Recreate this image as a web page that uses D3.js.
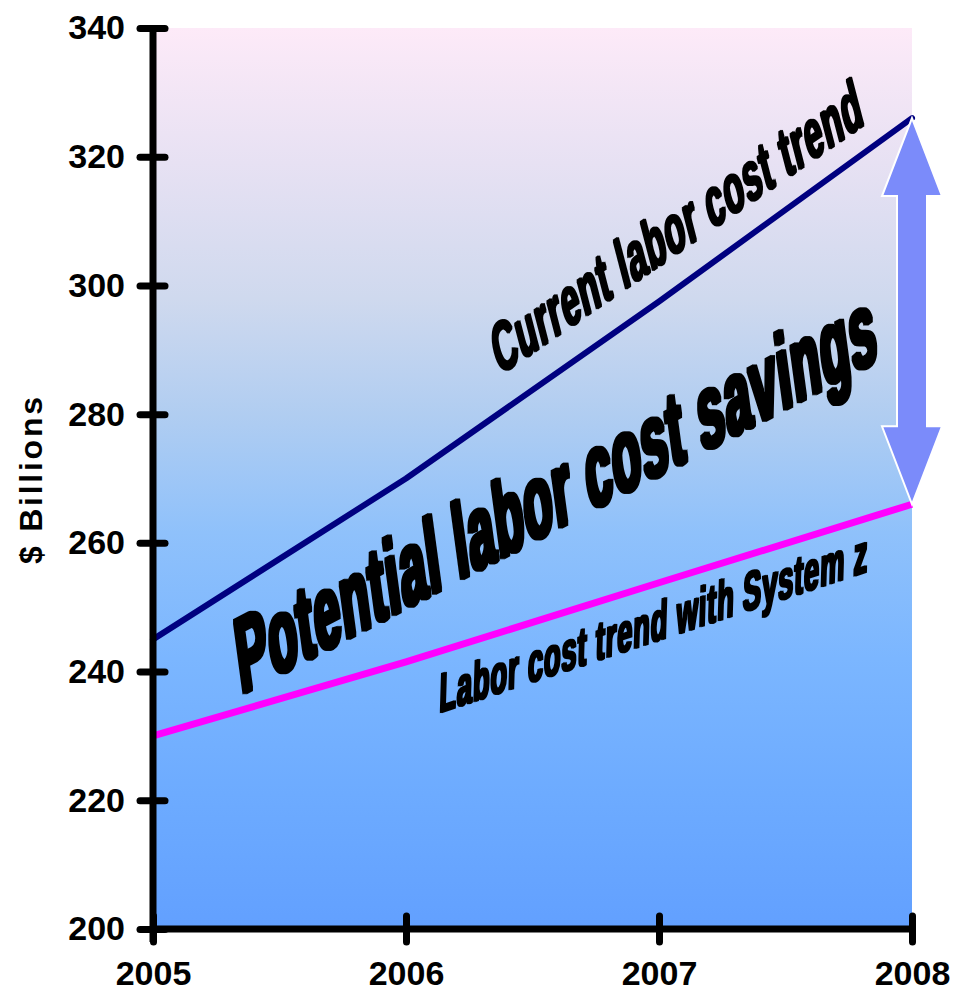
<!DOCTYPE html>
<html><head><meta charset="utf-8">
<script src="https://cdn.jsdelivr.net/npm/d3@7"></script>
<style>body{margin:0;background:#fff}</style>
</head><body><svg id="c" width="953" height="992"></svg>
<script>
// ---- data ----
const years = [2005, 2006, 2007, 2008];
const currentTrend = [245, 270, 297.5, 326];
const systemZTrend = [230, 241.5, 253.8, 266];
const yTicks = [200, 220, 240, 260, 280, 300, 320, 340];
const xTicks = [2005, 2006, 2007, 2008];
const yLabel = "$ Billions";
const annotationTexts = ["Current labor cost trend", "Potential labor cost savings", "Labor cost trend with System z"];
// baseline start/end of each annotation, in data units [year, $bn]
const annotationFrom = [[2006.37, 286.0], [2005.35, 236.5], [2006.13, 233.6]];
const annotationTo = [[2007.82, 325.2], [2007.875, 288.6], [2007.825, 255.6]];

// ---- layout ----
const svg = d3.select("#c");
const m = {l: 153, r: 953 - 912, t: 28, b: 992 - 929};
const W = 953, H = 992;
const x = d3.scaleLinear().domain([2005, 2008]).range([m.l, W - m.r]);
const y = d3.scaleLinear().domain([200, 340]).range([H - m.b, m.t]);

const defs = svg.append("defs");
const g = defs.append("linearGradient").attr("id", "bg").attr("x1", 0).attr("x2", 0).attr("y1", 0).attr("y2", 1);
[[0, "#fdeaf8"], [0.15, "#e7e1f3"], [0.3, "#cfd9ee"], [0.43, "#b0cdf1"], [0.56, "#8fc1fb"], [0.7, "#7bb6ff"], [0.85, "#6dabff"], [1, "#62a0ff"]]
  .forEach(([o, c]) => g.append("stop").attr("offset", o).attr("stop-color", c));

const radii = [1.2, 2, 1.1];
radii.forEach((r, i) => {
  defs.append("filter").attr("id", "heavy" + i).attr("x", "-5%").attr("y", "-5%").attr("width", "110%").attr("height", "110%")
    .append("feMorphology").attr("operator", "dilate").attr("radius", r);
});

svg.append("rect").attr("x", x(2005)).attr("y", y(340)).attr("width", x(2008) - x(2005)).attr("height", y(200) - y(340)).attr("fill", "url(#bg)");

const line = d3.line().x((d, i) => x(years[i])).y(d => y(d));
svg.append("path").datum(currentTrend).attr("d", line).attr("fill", "none").attr("stroke", "#000080").attr("stroke-width", 6).attr("stroke-linecap", "round").attr("stroke-linejoin", "round");
svg.append("path").datum(systemZTrend).attr("d", line).attr("fill", "none").attr("stroke", "#ff00ff").attr("stroke-width", 7).attr("stroke-linejoin", "round");

// double arrow between the two 2008 values
const ax = x(years[3]), aTop = y(currentTrend[3]), aBot = y(systemZTrend[3]);
const hw = 30, sw = 15, hl = 78;
svg.append("polygon")
  .attr("points", [[ax, aTop], [ax + hw, aTop + hl], [ax + sw, aTop + hl], [ax + sw, aBot - hl], [ax + hw, aBot - hl], [ax, aBot], [ax - hw, aBot - hl], [ax - sw, aBot - hl], [ax - sw, aTop + hl], [ax - hw, aTop + hl]].map(p => p.join(",")).join(" "))
  .attr("fill", "#7b8bfa").attr("stroke", "#ffffff").attr("stroke-width", 2);

// annotations
const sizes = [64, 98, 52];
annotationTexts.forEach((t, i) => {
  const p0 = [x(annotationFrom[i][0]), y(annotationFrom[i][1])];
  const p1 = [x(annotationTo[i][0]), y(annotationTo[i][1])];
  const ang = Math.atan2(p1[1] - p0[1], p1[0] - p0[0]) * 180 / Math.PI;
  const len = Math.hypot(p1[0] - p0[0], p1[1] - p0[1]);
  const grp = svg.append("g").attr("filter", `url(#heavy${i})`);
  const txt = grp.append("text").text(t)
    .attr("font-family", "Liberation Sans, Arial, sans-serif").attr("font-weight", "bold")
    .attr("font-size", sizes[i]).attr("letter-spacing", sizes[i] * 0.03).attr("fill", "#000");
  const nat = txt.node().getComputedTextLength();
  txt.attr("transform", `translate(${p0[0]},${p0[1]}) rotate(${ang}) skewX(-20) scale(${len / nat},1)`);
});

// axes
const yAxis = svg.append("g").attr("transform", `translate(${x(2005)},0)`)
  .call(d3.axisLeft(y).tickValues(yTicks).tickSize(13).tickPadding(15));
yAxis.selectAll(".tick line").attr("x1", 12);
const xAxis = svg.append("g").attr("transform", `translate(0,${y(200)})`)
  .call(d3.axisBottom(x).tickValues(xTicks).tickFormat(d3.format("d")).tickSize(13).tickPadding(19));
xAxis.selectAll(".tick line").attr("y1", -13);
[yAxis, xAxis].forEach(a => {
  a.select(".domain").remove();
  a.selectAll(".tick line").attr("stroke", "#000").attr("stroke-width", 7).attr("stroke-linecap", "round");
  a.selectAll(".tick text").attr("fill", "#000").attr("font-family", "Liberation Sans, Arial, sans-serif").attr("font-weight", "bold").attr("font-size", 34);
});
svg.append("line").attr("x1", x(2005)).attr("x2", x(2005)).attr("y1", y(340)).attr("y2", y(200) + 13).attr("stroke", "#000").attr("stroke-width", 7);
svg.append("line").attr("x1", x(2005)).attr("x2", x(2008)).attr("y1", y(200)).attr("y2", y(200)).attr("stroke", "#000").attr("stroke-width", 7);

svg.append("text").text(yLabel)
  .attr("transform", `translate(42,${(y(340) + y(200)) / 2 + 2}) rotate(-90)`)
  .attr("text-anchor", "middle").attr("font-family", "Liberation Sans, Arial, sans-serif").attr("font-weight", "bold").attr("font-size", 32)
  .attr("textLength", 167).attr("lengthAdjust", "spacing");
</script></body></html>
